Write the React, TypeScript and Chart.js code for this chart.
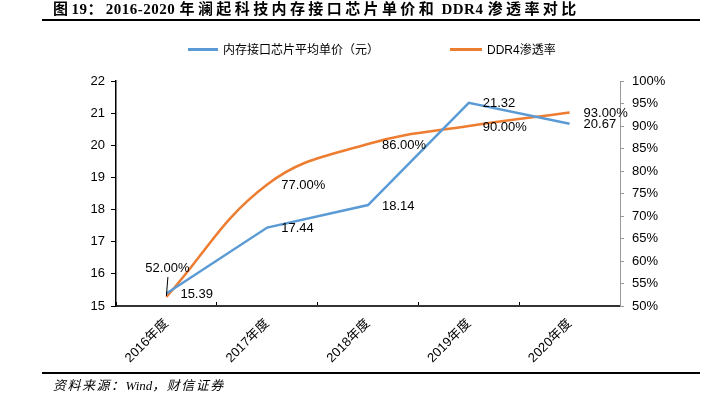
import React, { useEffect, useRef } from 'react';
import { Chart, registerables } from 'chart.js';

Chart.register(...registerables);

// ---- data ----
const categories = ['2016年度', '2017年度', '2018年度', '2019年度', '2020年度'];
const unitPrice = [15.39, 17.44, 18.14, 21.32, 20.67];
const ddr4Penetration = [52, 77, 86, 90, 93];
const seriesNames = ['内存接口芯片平均单价（元）', 'DDR4渗透率'];
const priceAxis = { min: 15, max: 22, step: 1 };
const pctAxis = { min: 50, max: 100, step: 5 };

// label placement style (not data)
const pctLabelPlacement = ['above', 'right', 'right', 'right', 'right'];
const priceLabelPlacement = ['right', 'right', 'right', 'right', 'right'];

const BLUE = '#5B9BD5';
const ORANGE = '#ED7D31';
const SANS = '"Liberation Sans", Arial, "Noto Sans CJK SC", sans-serif';
const SERIF = '"Liberation Serif", "Times New Roman", "Noto Sans CJK SC", serif';

const labelPlugin = {
  id: 'pointLabels',
  afterDatasetsDraw(chart: any) {
    const ctx = chart.ctx;
    ctx.save();
    ctx.font = '13px ' + SANS;
    ctx.fillStyle = '#000';
    ctx.textBaseline = 'middle';
    chart.data.datasets.forEach((ds: any, di: number) => {
      const meta = chart.getDatasetMeta(di);
      meta.data.forEach((pt: any, i: number) => {
        const v = ds.data[i];
        const text = di === 0 ? v.toFixed(2) : v.toFixed(2) + '%';
        const place = di === 0 ? priceLabelPlacement[i] : pctLabelPlacement[i];
        if (place === 'above') {
          ctx.textAlign = 'center';
          ctx.fillText(text, pt.x + 1, pt.y - 29);
          ctx.beginPath();
          ctx.strokeStyle = '#000';
          ctx.lineWidth = 1;
          ctx.moveTo(pt.x + 1.5, pt.y - 20);
          ctx.lineTo(pt.x, pt.y - 1);
          ctx.stroke();
        } else {
          ctx.textAlign = 'left';
          ctx.fillText(text, pt.x + 14, pt.y + 1);
        }
      });
    });
    ctx.restore();
  },
};

function ChartCanvas() {
  const ref = useRef<HTMLCanvasElement | null>(null);
  useEffect(() => {
    if (!ref.current) return;
    const tickFont = { size: 13, family: SANS };
    const chart = new Chart(ref.current, {
      type: 'line',
      data: {
        labels: categories,
        datasets: [
          {
            label: seriesNames[0],
            data: unitPrice,
            borderColor: BLUE,
            backgroundColor: BLUE,
            borderWidth: 2.5,
            pointRadius: 0,
            tension: 0,
            yAxisID: 'y',
          },
          {
            label: seriesNames[1],
            data: ddr4Penetration,
            borderColor: ORANGE,
            backgroundColor: ORANGE,
            borderWidth: 2.5,
            pointRadius: 0,
            tension: 0.4,
            yAxisID: 'y1',
          },
        ],
      },
      options: {
        responsive: false,
        animation: false,
        layout: { padding: { top: 81, left: 0, right: 0, bottom: 0 } },
        plugins: {
          legend: { display: false },
          title: { display: false },
          tooltip: { enabled: false },
        },
        scales: {
          x: {
            type: 'category',
            offset: true,
            grid: {
              display: true,
              drawOnChartArea: false,
              offset: true,
              tickLength: -4,
              color: '#000',
              lineWidth: 1,
            },
            border: { display: true, color: '#333', width: 2 },
            ticks: {
              minRotation: 45,
              maxRotation: 45,
              padding: 14,
              color: '#000',
              font: tickFont,
            },
            afterFit: (s: any) => {
              s.height = 97;
            },
          },
          y: {
            position: 'left',
            min: priceAxis.min,
            max: priceAxis.max,
            ticks: { stepSize: priceAxis.step, padding: 6, color: '#000', font: tickFont },
            grid: { drawOnChartArea: false, tickLength: 5, color: '#000' },
            border: { display: true, color: '#000', width: 1.5 },
            afterFit: (s: any) => {
              s.width = 116;
            },
          },
          y1: {
            position: 'right',
            min: pctAxis.min,
            max: pctAxis.max,
            ticks: {
              stepSize: pctAxis.step,
              padding: 8,
              color: '#000',
              font: tickFont,
              callback: (v: any) => v + '%',
            },
            grid: { drawOnChartArea: false, tickLength: 4, color: '#999' },
            border: { display: true, color: '#999', width: 1 },
            afterFit: (s: any) => {
              s.width = 99;
            },
          },
        },
      } as any,
      plugins: [labelPlugin],
    });
    return () => chart.destroy();
  }, []);
  return (
    <canvas
      ref={ref}
      width={719}
      height={403}
      style={{ position: 'absolute', left: 0, top: 0, width: 719, height: 403, display: 'block' }}
    />
  );
}

const cjk = { letterSpacing: '3.4px' };
const lat = { letterSpacing: '0.5px' };
const fcjk = { letterSpacing: '1.5px' };

export default function App() {
  return (
    <div
      style={{
        position: 'fixed',
        left: 0,
        top: 0,
        width: 719,
        height: 403,
        background: '#fff',
        overflow: 'hidden',
      }}
    >
      <ChartCanvas />
      <div
        style={{
          position: 'absolute',
          left: 53,
          top: 0,
          font: 'bold 15px ' + SERIF,
          lineHeight: '18px',
          whiteSpace: 'nowrap',
          color: '#000',
        }}
      >
        <span style={cjk}>图</span>
        <span style={lat}>19</span>
        <span style={cjk}>：</span>
        <span style={lat}>2016-2020 </span>
        <span style={cjk}>年澜起科技内存接口芯片单价和</span>
        <span style={lat}> DDR4 </span>
        <span style={cjk}>渗透率对比</span>
      </div>
      <div style={{ position: 'absolute', left: 42, top: 19, width: 658, height: 2, background: '#000' }} />

      <div style={{ position: 'absolute', left: 188, top: 48, width: 30, height: 3, background: BLUE }} />
      <div
        style={{
          position: 'absolute',
          left: 223,
          top: 42,
          font: '12px ' + SANS,
          lineHeight: '16px',
          whiteSpace: 'nowrap',
          color: '#000',
        }}
      >
        {seriesNames[0]}
      </div>
      <div style={{ position: 'absolute', left: 450, top: 48, width: 32, height: 3, background: ORANGE }} />
      <div
        style={{
          position: 'absolute',
          left: 487,
          top: 42,
          font: '12px ' + SANS,
          lineHeight: '16px',
          whiteSpace: 'nowrap',
          color: '#000',
        }}
      >
        {seriesNames[1]}
      </div>

      <div style={{ position: 'absolute', left: 42, top: 372, width: 658, height: 1.5, background: '#000' }} />
      <div
        style={{
          position: 'absolute',
          left: 53,
          top: 378,
          font: 'italic 13px ' + SERIF,
          lineHeight: '16px',
          whiteSpace: 'nowrap',
          color: '#000',
        }}
      >
        <span style={fcjk}>资料来源：</span>
        <span>Wind</span>
        <span style={fcjk}>，财信证券</span>
      </div>
    </div>
  );
}
